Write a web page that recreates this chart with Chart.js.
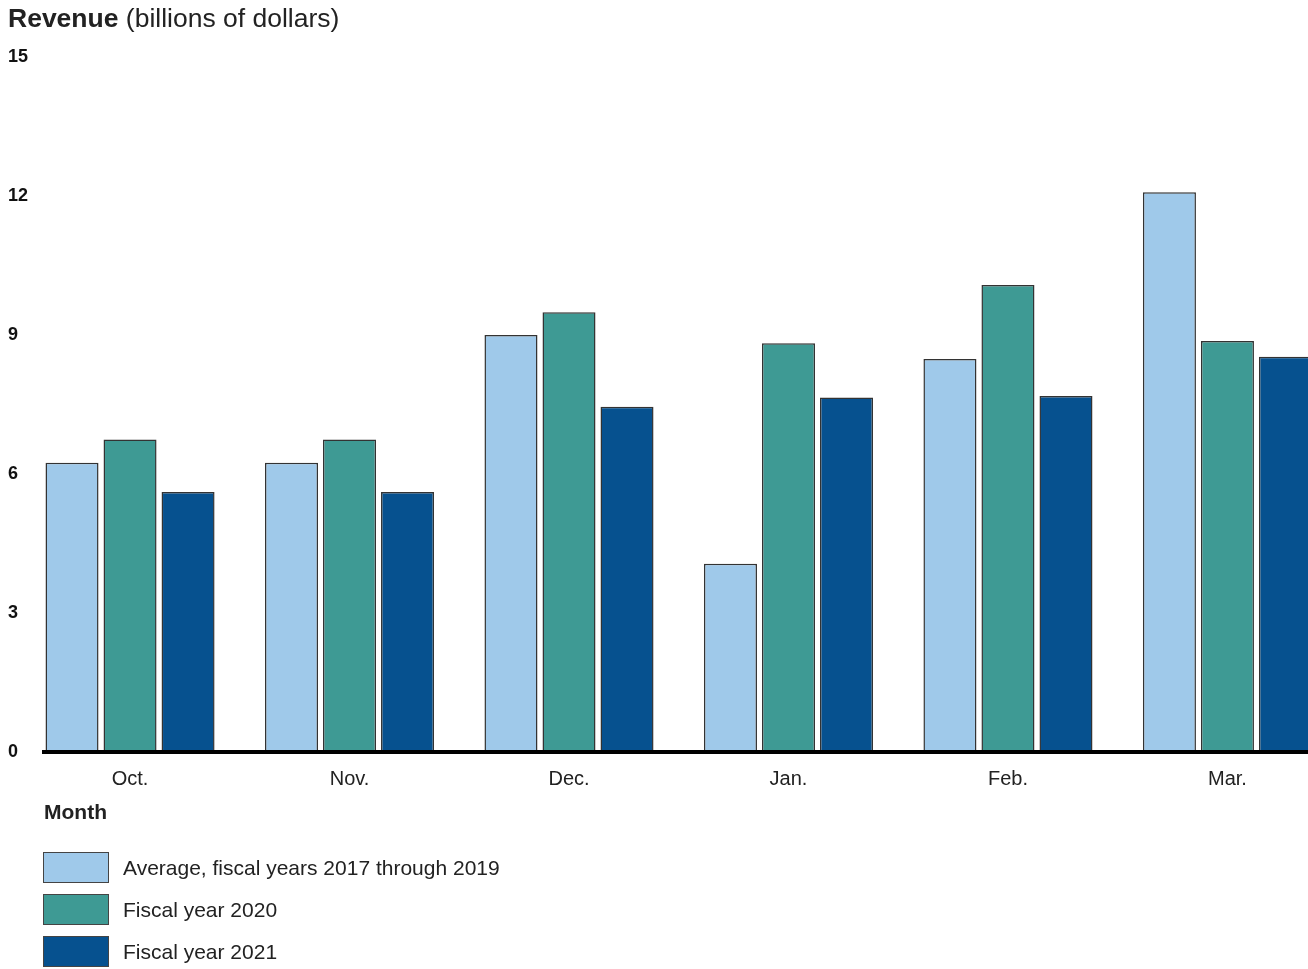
<!DOCTYPE html>
<html>
<head>
<meta charset="utf-8">
<script src="https://cdn.jsdelivr.net/npm/chart.js@4/dist/chart.umd.min.js"></script>
<style>
  body { margin: 0; background: #fff; overflow: hidden; font-family: "Liberation Sans", Arial, sans-serif; color: #222; }
  #wrap { position: relative; width: 1308px; height: 969px; }
  #title { position: absolute; left: 8px; top: 3px; font-size: 26.5px; line-height: 30px; white-space: nowrap; }
  #title b { font-weight: bold; }
  canvas { position: absolute; left: 0; top: 0; }
  #legend { position: absolute; left: 43px; top: 852px; }
  .item { display: flex; align-items: center; height: 31px; margin-bottom: 11px; }
  .box { width: 64px; height: 29px; border: 1px solid #444; margin-right: 14px; }
  .item span { font-size: 21px; color: #222; }
</style>
</head>
<body>
<div id="wrap">
  <canvas id="revChart" width="1308" height="969"></canvas>
  <div id="title"><b>Revenue</b> (billions of dollars)</div>
  <div id="legend"></div>
</div>
<script>
// Werte
const months = ['Oct.', 'Nov.', 'Dec.', 'Jan.', 'Feb.', 'Mar.'];
const avg2017to2019 = [6.24, 6.24, 9.0, 4.06, 8.48, 12.08];
const fy2020 = [6.74, 6.74, 9.49, 8.82, 10.08, 8.87];
const fy2021 = [5.61, 5.61, 7.45, 7.65, 7.68, 8.53];
const yTicks = [0, 3, 6, 9, 12, 15];

const seriesNames = ['Average, fiscal years 2017 through 2019', 'Fiscal year 2020', 'Fiscal year 2021'];
const seriesColors = ['#9fc9ea', '#3e9a94', '#06518f'];

const font = '"Liberation Sans", Arial, sans-serif';

function toPoints(values) {
  return values.map((v, i) => ({ x: i, y: v }));
}

// HTML-Legende, untereinander wie im Original
const htmlLegend = {
  id: 'htmlLegend',
  afterUpdate(chart) {
    const el = document.getElementById('legend');
    el.innerHTML = '';
    chart.data.datasets.forEach(ds => {
      const row = document.createElement('div');
      row.className = 'item';
      const box = document.createElement('div');
      box.className = 'box';
      box.style.background = ds.backgroundColor;
      const txt = document.createElement('span');
      txt.textContent = ds.label;
      row.appendChild(box);
      row.appendChild(txt);
      el.appendChild(row);
    });
  }
};

const ctx = document.getElementById('revChart');

new Chart(ctx, {
  type: 'bar',
  data: {
    datasets: [avg2017to2019, fy2020, fy2021].map((vals, i) => ({
      label: seriesNames[i],
      data: toPoints(vals),
      backgroundColor: seriesColors[i],
      borderColor: '#333',
      borderWidth: 1.5,
      borderSkipped: false,
      categoryPercentage: 0.793,
      barPercentage: 0.914
    }))
  },
  options: {
    responsive: false,
    animation: false,
    layout: { padding: { left: 8, top: 57, right: 0, bottom: 143 } },
    plugins: {
      legend: { display: false },
      tooltip: { enabled: false }
    },
    scales: {
      x: {
        type: 'linear',
        offset: false,
        min: -0.392,
        max: 5.367,
        grid: { display: false, drawTicks: false, offset: false },
        border: { display: true, color: '#000', width: 4, z: 1 },
        afterBuildTicks: s => { s.ticks = s.ticks.filter(t => Number.isInteger(t.value) && t.value >= 0 && t.value < months.length); },
        ticks: {
          stepSize: 1,
          includeBounds: false,
          autoSkip: false,
          maxRotation: 0,
          padding: 16,
          color: '#222',
          font: { family: font, size: 20 },
          callback: v => months[v]
        },
        title: {
          display: true,
          text: 'Month',
          align: 'start',
          color: '#222',
          padding: { top: -7, bottom: 0 },
          font: { family: font, size: 21, weight: 'bold' }
        }
      },
      y: {
        min: 0,
        max: 15,
        afterFit: s => { s.width = 36; },
        afterBuildTicks: s => { s.ticks = yTicks.map(v => ({ value: v })); },
        grid: { display: false, drawTicks: false },
        border: { display: false },
        ticks: {
          crossAlign: 'far',
          color: '#111',
          font: { family: font, size: 18, weight: 'bold' }
        }
      }
    }
  },
  plugins: [htmlLegend]
});
</script>
</body>
</html>
